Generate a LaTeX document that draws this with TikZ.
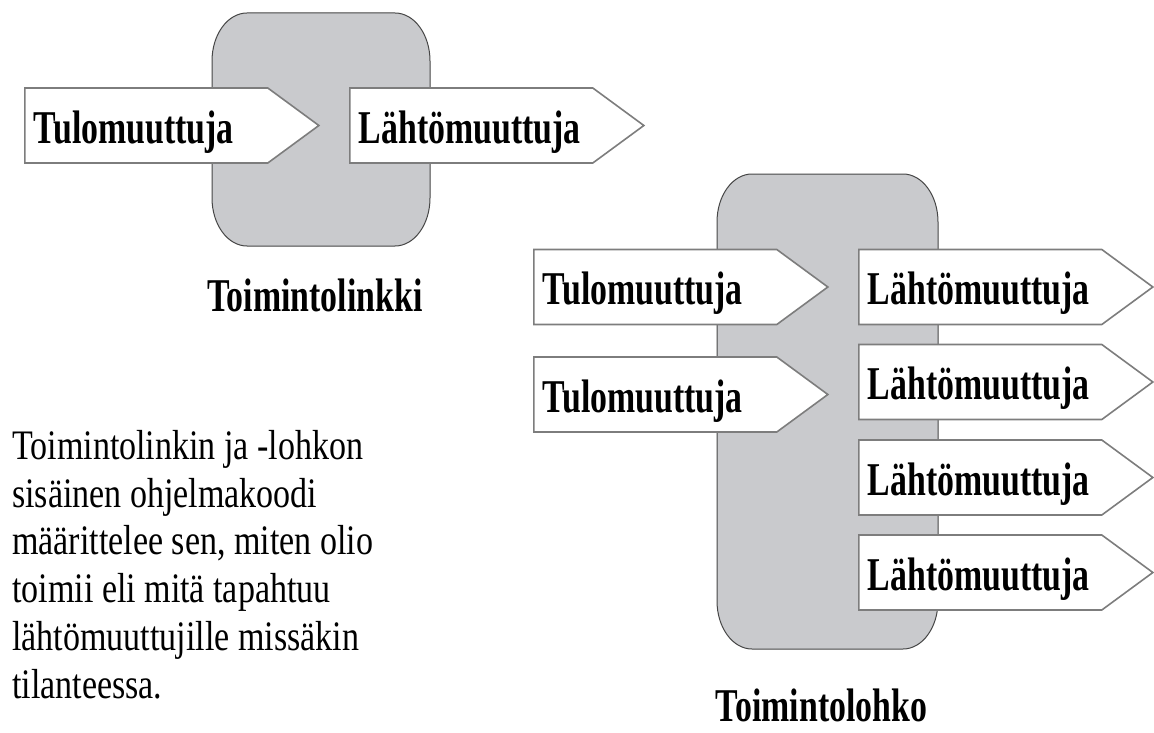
\documentclass[tikz,border=0pt]{standalone}
\usepackage{fontspec}
\setmainfont{Liberation Serif}
\newfontfamily\lihava[FakeStretch=0.72]{Liberation Serif Bold}
\newfontfamily\leipa[FakeStretch=0.81]{Liberation Serif}
\usetikzlibrary{shapes,shapes.symbols}
\definecolor{lohkoharmaa}{RGB}{201,202,205}
\definecolor{lohkoreuna}{RGB}{70,70,70}
\definecolor{nuolireuna}{RGB}{125,125,125}
\tikzset{
  lohko/.style={
      draw=lohkoreuna,
      fill=lohkoharmaa,
      line width=1pt
  },
  muuttuja/.style={
      draw=nuolireuna,
      fill=white,
      line width=1.6pt,
      signal,
      signal to=east,
      signal pointer angle=72.6,
      minimum height=75pt,
      inner ysep=0pt,
      inner xsep=9pt,
      text width=225pt,
      text height=44pt,
      text depth=9pt,
      align=left,
      anchor=west,
      font=\lihava\fontsize{47}{50}\selectfont
  },
  otsikko/.style={
      anchor=base,
      inner sep=0pt,
      font=\lihava\fontsize{47}{50}\selectfont
  }
}

\begin{document}
\begin{tikzpicture}[x=1pt,y=-1pt]
	\useasboundingbox (0,0) rectangle (1154,733);
	\draw[lohko] (212,61) arc[start angle=180,end angle=270,x radius=35,y radius=48]
		-- (395,13) arc[start angle=270,end angle=360,x radius=35,y radius=48]
		-- (430,198) arc[start angle=0,end angle=90,x radius=35,y radius=48]
		-- (247,246) arc[start angle=90,end angle=180,x radius=35,y radius=48] -- cycle;
	\draw[lohko] (717,222) arc[start angle=180,end angle=270,x radius=35,y radius=48]
		-- (903,174) arc[start angle=270,end angle=360,x radius=35,y radius=48]
		-- (938,601) arc[start angle=0,end angle=90,x radius=35,y radius=48]
		-- (752,649) arc[start angle=90,end angle=180,x radius=35,y radius=48] -- cycle;
	\node[muuttuja] (tulo1) at (24,125.5) {Tulomuuttuja};
	\node[muuttuja] (lahto1) at (349,125.5) {Lähtömuuttuja};
	\node[otsikko] (linkki) at (315,311) {Toimintolinkki};
	\node[muuttuja] (tulo2) at (533,287) {Tulomuuttuja};
	\node[muuttuja] (tulo3) at (533,394.5) {Tulomuuttuja};
	\node[muuttuja] (lahto2) at (858,287) {Lähtömuuttuja};
	\node[muuttuja] (lahto3) at (858,382) {Lähtömuuttuja};
	\node[muuttuja] (lahto4) at (858,477.5) {Lähtömuuttuja};
	\node[muuttuja] (lahto5) at (858,572.5) {Lähtömuuttuja};
	\node[otsikko] (lohko) at (821.5,721) {Toimintolohko};
	\node[anchor=north west,inner sep=0pt,align=left,
		font=\leipa\fontsize{42}{47.8}\selectfont] (selitys) at (12,430)
		{Toimintolinkin ja -lohkon\\sisäinen ohjelmakoodi\\määrittelee sen, miten olio\\toimii eli mitä tapahtuu\\lähtömuuttujille missäkin\\tilanteessa.};
\end{tikzpicture}
\end{document}
